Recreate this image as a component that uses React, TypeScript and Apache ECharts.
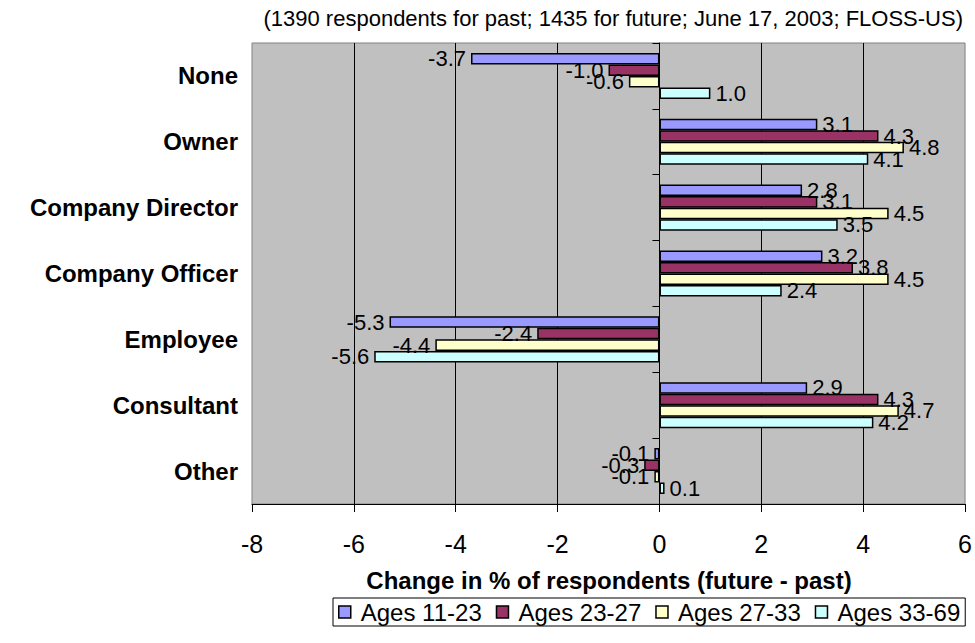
import React, { useEffect, useRef } from "react";
import * as echarts from "echarts";

const categories = ["None", "Owner", "Company Director", "Company Officer", "Employee", "Consultant", "Other"];
const seriesNames = ["Ages 11-23", "Ages 23-27", "Ages 27-33", "Ages 33-69"];
const ages11to23 = [-3.7, 3.1, 2.8, 3.2, -5.3, 2.9, -0.1];
const ages23to27 = [-1.0, 4.3, 3.1, 3.8, -2.4, 4.3, -0.3];
const ages27to33 = [-0.6, 4.8, 4.5, 4.5, -4.4, 4.7, -0.1];
const ages33to69 = [1.0, 4.1, 3.5, 2.4, -5.6, 4.2, 0.1];
const xMin = -8;
const xMax = 6;
const xStep = 2;
const titleText = "(1390 respondents for past; 1435 for future; June 17, 2003; FLOSS-US)";
const xAxisTitle = "Change in % of respondents (future - past)";

const colors = ["#9999FF", "#993366", "#FFFFCC", "#CCFFFF"];
const FONT = "'Liberation Sans', Arial, Helvetica, sans-serif";

export default function App() {
  const ref = useRef<HTMLDivElement>(null);
  useEffect(() => {
    if (!ref.current) return;
    const chart = echarts.init(ref.current, undefined, { renderer: "svg" });
    const allValues = [ages11to23, ages23to27, ages27to33, ages33to69];
    const series = allValues.map((vals, i) => ({
      name: seriesNames[i],
      type: "bar",
      yAxisIndex: 0,
      barGap: "0%",
      barCategoryGap: "30%",
      itemStyle: { color: colors[i], borderColor: "#000", borderWidth: 1.5 },
      label: {
        show: true,
        color: "#000",
        fontFamily: FONT,
        fontSize: 22,
        distance: 5,
        formatter: (p: any) => Number(p.value).toFixed(1),
      },
      data: vals.map((v) => ({
        value: v,
        label: { position: v < 0 ? "left" : "right" },
      })),
    }));
    chart.setOption({
      animation: false,
      backgroundColor: "#fff",
      textStyle: { fontFamily: FONT },
      grid: {
        left: 252,
        right: 9,
        top: 43,
        bottom: 139,
        show: true,
        backgroundColor: "#C0C0C0",
        borderColor: "#808080",
        borderWidth: 1,
        containLabel: false,
      },
      legend: {
        left: 333,
        top: 598,
        orient: "horizontal",
        borderColor: "#000",
        borderWidth: 1,
        padding: [2, 5, 2, 5],
        itemWidth: 12,
        itemHeight: 12,
        itemGap: 14,
        icon: "rect",
        itemStyle: { borderColor: "#000", borderWidth: 1.5 },
        textStyle: { fontFamily: FONT, fontSize: 24, color: "#000", padding: [0, 0, 0, 5] },
        data: seriesNames,
      },
      xAxis: {
        type: "value",
        min: xMin,
        max: xMax,
        interval: xStep,
        axisLine: { show: true, onZero: false, lineStyle: { color: "#000", width: 1 } },
        axisTick: { show: true, length: 8, lineStyle: { color: "#000" } },
        axisLabel: { fontFamily: FONT, fontSize: 25, color: "#000", margin: 27 },
        splitLine: { show: true, showMinLine: false, showMaxLine: false, lineStyle: { color: "#000", width: 1 } },
      },
      yAxis: [
        {
          type: "category",
          data: categories,
          inverse: true,
          position: "left",
          axisLine: { show: true, onZero: true, lineStyle: { color: "#000", width: 1 } },
          axisTick: { show: true, length: 7, lineStyle: { color: "#000" } },
          axisLabel: { show: false },
          splitLine: { show: false },
        },
        {
          type: "category",
          data: categories,
          inverse: true,
          position: "left",
          axisLine: { show: false, onZero: false },
          axisTick: { show: false },
          axisLabel: {
            show: true,
            margin: 14,
            fontFamily: FONT,
            fontSize: 24,
            fontWeight: "bold",
            color: "#000",
          },
          splitLine: { show: false },
        },
      ],
      graphic: [
        {
          type: "text",
          right: 12,
          top: 7,
          style: { text: titleText, fontFamily: FONT, fontSize: 22, fill: "#000" },
        },
        {
          type: "text",
          x: 609,
          y: 580,
          style: {
            text: xAxisTitle,
            fontFamily: FONT,
            fontSize: 24,
            fontWeight: "bold",
            fill: "#000",
            align: "center",
            verticalAlign: "middle",
          },
        },
      ],
      series,
    });
    return () => chart.dispose();
  }, []);
  return (
    <div
      ref={ref}
      style={{ position: "fixed", left: 0, top: 0, width: 975, height: 643 }}
    />
  );
}
